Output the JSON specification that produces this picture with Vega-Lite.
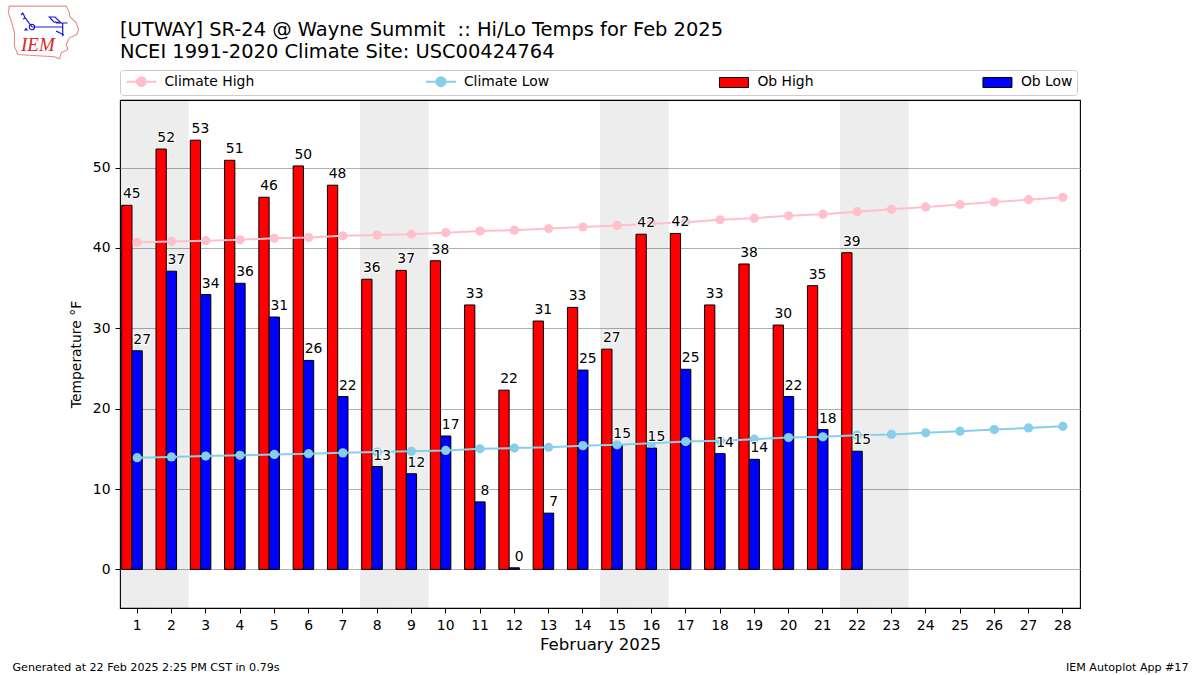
{"$schema":"https://vega.github.io/schema/vega-lite/v6.json","width":960,"height":508,"autosize":{"type":"none"},"padding":{"left":120,"top":100,"right":120,"bottom":67},"background":"white","title":{"text":["[UTWAY] SR-24 @ Wayne Summit \u00a0:: Hi/Lo Temps for Feb 2025","NCEI 1991-2020 Climate Site: USC00424764"],"anchor":"start","frame":"group","font":"DejaVu Sans","fontSize":19.44,"fontWeight":"normal","color":"black","lineHeight":22,"baseline":"alphabetic","dy":48,"offset":0},"config":{"font":"DejaVu Sans","view":{"stroke":"black","strokeWidth":1.1},"axis":{"labelFont":"DejaVu Sans","titleFont":"DejaVu Sans","labelColor":"black","titleColor":"black","labelFontSize":13.9,"tickColor":"black","tickSize":5,"domain":false,"titleFontWeight":"normal"}},"data":{"values":[
{"day":1,"series":"Climate High","value":40.7},{"day":2,"series":"Climate High","value":40.8},{"day":3,"series":"Climate High","value":40.9},{"day":4,"series":"Climate High","value":41.0},{"day":5,"series":"Climate High","value":41.2},{"day":6,"series":"Climate High","value":41.3},{"day":7,"series":"Climate High","value":41.5},{"day":8,"series":"Climate High","value":41.6},{"day":9,"series":"Climate High","value":41.7},{"day":10,"series":"Climate High","value":41.9},{"day":11,"series":"Climate High","value":42.1},{"day":12,"series":"Climate High","value":42.2},{"day":13,"series":"Climate High","value":42.4},{"day":14,"series":"Climate High","value":42.6},{"day":15,"series":"Climate High","value":42.8},{"day":16,"series":"Climate High","value":43.0},{"day":17,"series":"Climate High","value":43.2},{"day":18,"series":"Climate High","value":43.5},{"day":19,"series":"Climate High","value":43.7},{"day":20,"series":"Climate High","value":44.0},{"day":21,"series":"Climate High","value":44.2},{"day":22,"series":"Climate High","value":44.5},{"day":23,"series":"Climate High","value":44.8},{"day":24,"series":"Climate High","value":45.1},{"day":25,"series":"Climate High","value":45.4},{"day":26,"series":"Climate High","value":45.7},{"day":27,"series":"Climate High","value":46.0},{"day":28,"series":"Climate High","value":46.3},
{"day":1,"series":"Climate Low","value":13.9},{"day":2,"series":"Climate Low","value":14.0},{"day":3,"series":"Climate Low","value":14.1},{"day":4,"series":"Climate Low","value":14.2},{"day":5,"series":"Climate Low","value":14.3},{"day":6,"series":"Climate Low","value":14.4},{"day":7,"series":"Climate Low","value":14.5},{"day":8,"series":"Climate Low","value":14.6},{"day":9,"series":"Climate Low","value":14.7},{"day":10,"series":"Climate Low","value":14.8},{"day":11,"series":"Climate Low","value":15.0},{"day":12,"series":"Climate Low","value":15.1},{"day":13,"series":"Climate Low","value":15.2},{"day":14,"series":"Climate Low","value":15.4},{"day":15,"series":"Climate Low","value":15.5},{"day":16,"series":"Climate Low","value":15.7},{"day":17,"series":"Climate Low","value":15.9},{"day":18,"series":"Climate Low","value":16.0},{"day":19,"series":"Climate Low","value":16.2},{"day":20,"series":"Climate Low","value":16.4},{"day":21,"series":"Climate Low","value":16.5},{"day":22,"series":"Climate Low","value":16.7},{"day":23,"series":"Climate Low","value":16.8},{"day":24,"series":"Climate Low","value":17.0},{"day":25,"series":"Climate Low","value":17.2},{"day":26,"series":"Climate Low","value":17.4},{"day":27,"series":"Climate Low","value":17.6},{"day":28,"series":"Climate Low","value":17.8},
{"day":1,"series":"Ob High","value":45.3,"label":45},{"day":2,"series":"Ob High","value":52.3,"label":52},{"day":3,"series":"Ob High","value":53.4,"label":53},{"day":4,"series":"Ob High","value":50.9,"label":51},{"day":5,"series":"Ob High","value":46.3,"label":46},{"day":6,"series":"Ob High","value":50.2,"label":50},{"day":7,"series":"Ob High","value":47.8,"label":48},{"day":8,"series":"Ob High","value":36.1,"label":36},{"day":9,"series":"Ob High","value":37.2,"label":37},{"day":10,"series":"Ob High","value":38.4,"label":38},{"day":11,"series":"Ob High","value":32.9,"label":33},{"day":12,"series":"Ob High","value":22.3,"label":22},{"day":13,"series":"Ob High","value":30.9,"label":31},{"day":14,"series":"Ob High","value":32.6,"label":33},{"day":15,"series":"Ob High","value":27.4,"label":27},{"day":16,"series":"Ob High","value":41.7,"label":42},{"day":17,"series":"Ob High","value":41.8,"label":42},{"day":18,"series":"Ob High","value":32.9,"label":33},{"day":19,"series":"Ob High","value":38.0,"label":38},{"day":20,"series":"Ob High","value":30.4,"label":30},{"day":21,"series":"Ob High","value":35.3,"label":35},{"day":22,"series":"Ob High","value":39.4,"label":39},
{"day":1,"series":"Ob Low","value":27.2,"label":27},{"day":2,"series":"Ob Low","value":37.1,"label":37},{"day":3,"series":"Ob Low","value":34.2,"label":34},{"day":4,"series":"Ob Low","value":35.6,"label":36},{"day":5,"series":"Ob Low","value":31.4,"label":31},{"day":6,"series":"Ob Low","value":26.0,"label":26},{"day":7,"series":"Ob Low","value":21.5,"label":22},{"day":8,"series":"Ob Low","value":12.8,"label":13},{"day":9,"series":"Ob Low","value":11.9,"label":12},{"day":10,"series":"Ob Low","value":16.6,"label":17},{"day":11,"series":"Ob Low","value":8.4,"label":8},{"day":12,"series":"Ob Low","value":0.2,"label":0},{"day":13,"series":"Ob Low","value":7.0,"label":7},{"day":14,"series":"Ob Low","value":24.8,"label":25},{"day":15,"series":"Ob Low","value":15.5,"label":15},{"day":16,"series":"Ob Low","value":15.1,"label":15},{"day":17,"series":"Ob Low","value":24.9,"label":25},{"day":18,"series":"Ob Low","value":14.4,"label":14},{"day":19,"series":"Ob Low","value":13.7,"label":14},{"day":20,"series":"Ob Low","value":21.5,"label":22},{"day":21,"series":"Ob Low","value":17.4,"label":18},{"day":22,"series":"Ob Low","value":14.7,"label":15},
{"day":1,"series":"Weekend"},{"day":2,"series":"Weekend"},{"day":8,"series":"Weekend"},{"day":9,"series":"Weekend"},{"day":15,"series":"Weekend"},{"day":16,"series":"Weekend"},{"day":22,"series":"Weekend"},{"day":23,"series":"Weekend"},
{"day":1,"series":"Logo","outline":"IEM","glyph":"station"}
]},
"resolve":{"axis":{"x":"independent","y":"independent"}},
"layer":[
{"transform":[{"filter":"datum.series==='Weekend'"}],"mark":{"type":"rect","fill":"black","opacity":0.07},"encoding":{"x":{"field":"day","type":"ordinal","scale":{"domain":[1,2,3,4,5,6,7,8,9,10,11,12,13,14,15,16,17,18,19,20,21,22,23,24,25,26,27,28],"paddingInner":0,"paddingOuter":0},"axis":{"orient":"bottom","title":"February 2025","titleFontSize":16.6,"titlePadding":5,"labelAngle":0,"labelPadding":5,"grid":false}}}},
{"transform":[{"filter":"indexof(['Ob High','Ob Low'],datum.series)>=0"}],"mark":{"type":"bar","stroke":"black","strokeWidth":1},"encoding":{"x":{"field":"day","type":"ordinal","axis":null},"xOffset":{"field":"series","type":"nominal","scale":{"domain":["Ob High","Ob Low"],"paddingInner":0,"paddingOuter":0.667,"align":0.125}},"y":{"field":"value","type":"quantitative","scale":{"domain":[-4.8,58.4],"nice":false,"zero":false},"axis":{"orient":"left","title":"Temperature °F","titleFontSize":13.9,"titlePadding":9,"values":[0,10,20,30,40,50],"grid":true,"gridColor":"#b0b0b0","gridWidth":1,"labelPadding":5}},"color":{"field":"series","type":"nominal","legend":null,"scale":{"domain":["Ob High","Ob Low","Climate High","Climate Low"],"range":["red","blue","pink","skyblue"]}}}},
{"transform":[{"filter":"indexof(['Climate High','Climate Low'],datum.series)>=0"}],"mark":{"type":"line","strokeWidth":2},"encoding":{"x":{"field":"day","type":"ordinal","axis":null},"y":{"field":"value","type":"quantitative","axis":null},"color":{"field":"series","type":"nominal","legend":null},"detail":{"field":"series"}}},
{"transform":[{"filter":"indexof(['Climate High','Climate Low'],datum.series)>=0"}],"mark":{"type":"point","filled":true,"opacity":1,"size":85,"shape":"circle"},"encoding":{"x":{"field":"day","type":"ordinal","axis":{"orient":"top","title":"Generated at 22 Feb 2025 2:25 PM CST in 0.79s","labels":false,"ticks":false,"domain":false,"grid":false,"titleFontSize":11.1,"titleFontWeight":"normal","titleAnchor":"start","titleAlign":"left","titleBaseline":"alphabetic","titleX":-108,"titleY":570}},"y":{"field":"value","type":"quantitative","axis":{"orient":"right","title":"IEM Autoplot App #17","labels":false,"ticks":false,"domain":false,"grid":false,"titleFontSize":11.1,"titleAngle":0,"titleAlign":"right","titleBaseline":"alphabetic","titleX":108,"titleY":570}},"color":{"field":"series","type":"nominal","legend":null}}},
{"transform":[{"filter":"indexof(['Climate High','Climate Low'],datum.series)>=0"}],"mark":{"type":"point","filled":true,"size":0},"encoding":{"x":{"field":"day","type":"ordinal","axis":null},"y":{"field":"value","type":"quantitative","axis":null},"color":{"field":"series","type":"nominal","legend":null},"shape":{"field":"series","type":"nominal","scale":{"domain":["Climate High","Climate Low","Ob High","Ob Low"],"range":["M-1,0L1.1,0A0.9,0.9 0 1 1 2.9,0A0.9,0.9 0 1 1 1.1,0M2.9,0L5,0","M-1,0L1.1,0A0.9,0.9 0 1 1 2.9,0A0.9,0.9 0 1 1 1.1,0M2.9,0L5,0","M-1,-1L4.8,-1L4.8,1L-1,1Z","M-1,-1L4.8,-1L4.8,1L-1,1Z"]},"legend":{"orient":"none","direction":"horizontal","columns":4,"gridAlign":"each","columnPadding":166.5,"title":null,"legendX":0,"legendY":-30,"fillColor":"white","strokeColor":"#cccccc","cornerRadius":3,"padding":4.5,"symbolSize":100,"labelOffset":26,"labelFontSize":13.9,"labelColor":"black","labelFont":"DejaVu Sans","symbolOpacity":1,"encoding":{"symbols":{"fill":{"value":{"expr":"scale('color',datum.value)"}},"stroke":{"value":{"expr":"indexof(['Ob High','Ob Low'],datum.value)>=0?'black':scale('color',datum.value)"}},"strokeWidth":{"value":{"expr":"indexof(['Ob High','Ob Low'],datum.value)>=0?1:2"}}}}}}}},
{"transform":[{"filter":"datum.series==='Logo'"}],"mark":{"type":"point","size":0,"filled":false},"encoding":{"strokeWidth":{"field":"outline","type":"nominal","scale":{"type":"ordinal","domain":["IEM"],"range":[1.1]},"legend":{"orient":"none","title":null,"legendX":-85,"legendY":-64.7,"padding":0,"symbolType":"M-35.3,-38.7L21.7,-38.7L25,-32L25,-28.7L31.7,-22L34,-15.3L32.3,-10.3L25,-7L21.7,-0.3L23.3,4.7L16.7,8L15,14L10,12L-26.7,9.7L-30,1.3L-30,-12L-32.7,-22L-36,-32Z","symbolSize":4,"symbolFillColor":"transparent","symbolStrokeColor":"#e88a8a","symbolOpacity":1,"labelOffset":-33,"labelFont":"Liberation Serif","labelFontStyle":"italic","labelFontSize":19,"labelColor":"#d9232a"}},"strokeDash":{"field":"glyph","type":"nominal","scale":{"domain":["station"],"range":[[1,0]]},"legend":{"orient":"none","title":null,"legendX":-76,"legendY":-71,"padding":0,"symbolType":"M-14,-6.7A2.7,2.7 0 1 1 -14,-1.3A2.7,2.7 0 1 1 -14,-6.7Z M-14,-4L16.7,-4 M-14,-4L-20.7,-13L-23.3,-18 L-25,-16 M-20.7,-13 L-23,-12 M3.3,-14L9,-14L15,-8L8,-9Z M10,-8L21.7,-8 M16.7,-8L16.7,5.3 M10,0L18,4 M-20,-2.5L-19,-1L-21,-1Z","symbolSize":4,"symbolFillColor":"#1a1ad6","symbolStrokeColor":"#1a1ad6","symbolStrokeWidth":1.2,"symbolOpacity":1,"labelOpacity":0,"labelFontSize":1}}}},
{"transform":[{"filter":"indexof(['Ob High','Ob Low'],datum.series)>=0"}],"mark":{"type":"text","align":"center","baseline":"alphabetic","fontSize":13.9,"color":"white","stroke":"white","strokeWidth":2,"dy":-7,"dx":5},"encoding":{"x":{"field":"day","type":"ordinal","axis":null},"xOffset":{"field":"series","type":"nominal"},"y":{"field":"value","type":"quantitative","axis":null},"text":{"field":"label","type":"quantitative"}}},
{"transform":[{"filter":"indexof(['Ob High','Ob Low'],datum.series)>=0"}],"mark":{"type":"text","align":"center","baseline":"alphabetic","fontSize":13.9,"color":"black","dy":-7,"dx":5},"encoding":{"x":{"field":"day","type":"ordinal","axis":null},"xOffset":{"field":"series","type":"nominal"},"y":{"field":"value","type":"quantitative","axis":null},"text":{"field":"label","type":"quantitative"}}}
]}
